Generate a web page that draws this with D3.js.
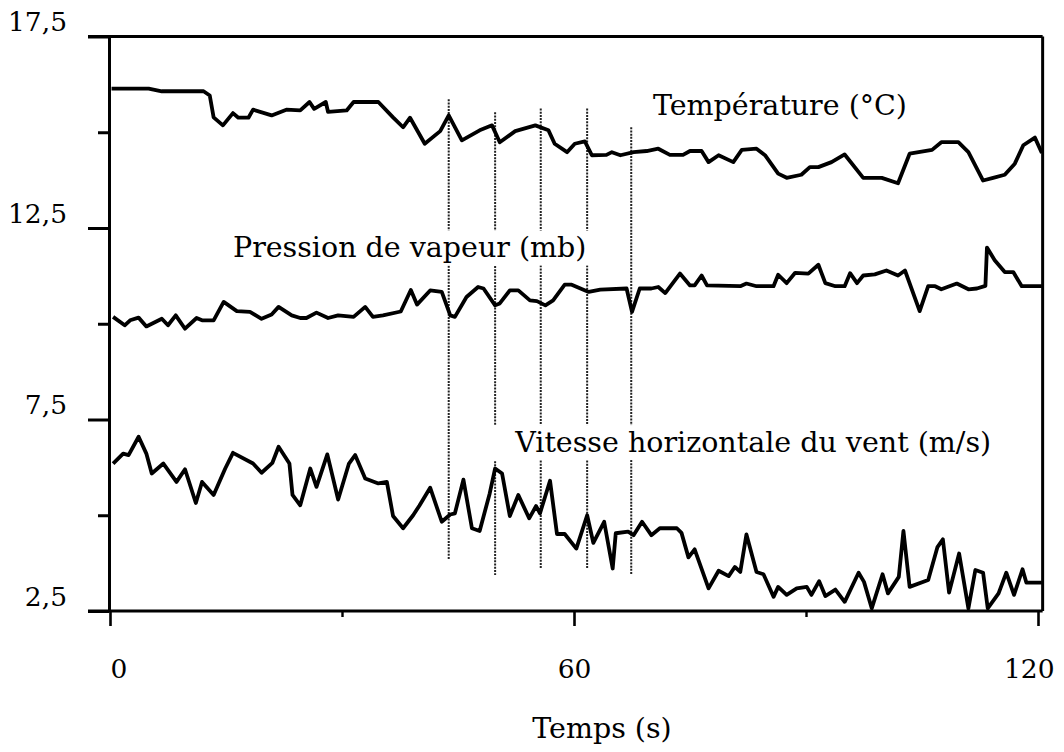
<!DOCTYPE html>
<html>
<head>
<meta charset="utf-8">
<script src="https://cdn.jsdelivr.net/npm/d3@7"></script>
<style>
  html, body { margin: 0; padding: 0; background: #fff; }
  svg { display: block; }
  text { font-family: "DejaVu Serif", "Liberation Serif", serif; fill: #000; }
</style>
</head>
<body>
<svg id="chart" width="1064" height="752"></svg>
<script>
// Time series, [time (s), value]
const temperature = [
  [0.2,16.14],[5.0,16.14],[6.7,16.07],[12.1,16.07],[12.9,15.96],[13.4,15.39],[14.6,15.18],[15.9,15.5],
  [16.6,15.38],[17.9,15.38],[18.5,15.59],[20.9,15.44],[22.8,15.59],[24.6,15.57],[25.8,15.79],[26.4,15.61],
  [27.9,15.79],[28.2,15.53],[30.6,15.57],[31.5,15.79],[34.7,15.79],[36.6,15.39],[37.9,15.13],[38.8,15.38],
  [40.7,14.7],[42.7,15.03],[43.8,15.44],[45.5,14.79],[47.8,15.05],[49.4,15.18],[50.4,14.74],[52.4,15.03],
  [55.0,15.18],[56.7,15.05],[57.5,14.7],[59.1,14.48],[60.1,14.7],[61.4,14.76],[62.3,14.4],[64.2,14.41],
  [64.9,14.48],[66.0,14.4],[67.7,14.48],[69.4,14.51],[70.9,14.57],[72.4,14.41],[74.1,14.41],[75.0,14.51],
  [76.5,14.51],[77.4,14.22],[78.7,14.4],[80.6,14.22],[81.7,14.54],[83.6,14.57],[84.7,14.4],[86.4,13.92],
  [87.5,13.81],[89.4,13.89],[90.5,14.09],[91.6,14.09],[93.3,14.22],[95.0,14.42],[97.4,13.81],[99.8,13.81],
  [101.9,13.67],[103.4,14.44],[106.3,14.54],[107.5,14.74],[109.7,14.74],[111.0,14.48],[112.9,13.74],
  [114.2,13.81],[115.7,13.89],[117.0,14.18],[118.1,14.66],[119.6,14.86],[120.5,14.46]
];

const vapourPressure = [
  [0.4,10.18],[1.9,9.96],[2.6,10.09],[3.7,10.16],[4.7,9.93],[6.7,10.13],[7.5,9.96],[8.5,10.22],[9.7,9.87],
  [11.2,10.15],[11.9,10.09],[13.4,10.09],[14.7,10.57],[16.4,10.33],[18.1,10.31],[19.6,10.13],[20.9,10.24],
  [21.8,10.44],[23.5,10.22],[24.6,10.15],[25.4,10.15],[26.7,10.29],[28.2,10.15],[29.5,10.22],[31.5,10.18],
  [33.0,10.44],[34.0,10.18],[35.3,10.22],[37.6,10.32],[38.9,10.88],[39.7,10.5],[41.4,10.87],[42.9,10.83],
  [44.0,10.22],[44.6,10.18],[46.1,10.7],[47.6,10.96],[48.3,10.92],[49.8,10.48],[50.4,10.53],[51.7,10.87],
  [52.8,10.87],[54.3,10.61],[55.2,10.59],[56.3,10.48],[57.3,10.61],[58.8,11.02],[59.7,11.02],[61.9,10.83],
  [63.4,10.89],[66.8,10.92],[67.5,10.31],[68.5,10.92],[70.0,10.92],[70.9,10.96],[71.8,10.8],[73.7,11.31],
  [75.0,11.0],[75.6,11.0],[76.5,11.26],[77.2,11.0],[81.5,10.98],[82.3,11.05],[83.6,10.98],[85.8,10.98],
  [86.4,11.28],[87.5,11.06],[88.6,11.33],[90.3,11.31],[91.6,11.54],[92.5,11.06],[93.8,10.98],[95.0,10.98],
  [95.7,11.32],[96.6,11.06],[97.4,11.26],[98.9,11.29],[100.4,11.39],[101.9,11.26],[102.8,11.39],[104.7,10.33],
  [105.8,10.98],[106.7,10.98],[107.5,10.9],[109.5,11.05],[111.0,10.9],[112.1,10.92],[113.2,10.99],[113.4,11.99],
  [114.4,11.66],[115.7,11.35],[116.8,11.35],[117.9,10.98],[120.5,10.98]
];

const windSpeed = [
  [0.4,6.35],[1.7,6.61],[2.4,6.57],[3.7,7.05],[4.7,6.61],[5.4,6.09],[6.9,6.35],[8.6,5.87],[9.7,6.2],
  [11.1,5.32],[11.9,5.87],[13.4,5.53],[14.9,6.22],[15.9,6.63],[18.5,6.35],[19.6,6.11],[21.0,6.37],[21.8,6.79],
  [23.2,6.35],[23.6,5.53],[24.6,5.26],[25.9,6.22],[26.7,5.74],[28.1,6.59],[29.5,5.41],[30.9,6.35],[31.7,6.57],
  [33.0,5.96],[34.7,5.83],[35.8,5.87],[36.6,4.98],[37.9,4.66],[39.2,5.0],[40.0,5.25],[41.4,5.72],[42.9,4.83],
  [44.0,5.02],[44.6,5.05],[45.7,5.93],[46.8,4.66],[47.8,4.59],[49.1,5.57],[49.8,6.22],[50.7,6.09],[51.7,4.98],
  [52.8,5.53],[54.2,4.92],[55.1,5.24],[55.6,5.05],[56.9,5.9],[57.8,4.51],[58.8,4.51],[60.3,4.13],[61.7,5.0],
  [62.5,4.28],[63.9,4.83],[65.0,3.61],[65.4,4.53],[67.0,4.57],[67.7,4.48],[68.8,4.83],[70.0,4.48],[71.1,4.66],
  [73.3,4.66],[73.9,4.54],[74.8,3.9],[75.6,4.11],[77.4,3.09],[78.7,3.55],[80.0,3.41],[80.8,3.65],[81.5,3.52],
  [82.3,4.5],[83.6,3.52],[84.5,3.46],[85.8,2.87],[86.4,3.13],[87.5,2.92],[88.8,3.09],[90.1,3.13],[90.7,2.92],
  [91.7,3.28],[92.5,2.89],[93.8,3.06],[95.0,2.74],[96.8,3.5],[97.5,3.26],[98.5,2.57],[99.9,3.46],[100.6,2.96],
  [102.0,3.39],[102.6,4.59],[103.4,3.13],[105.8,3.31],[107.0,4.17],[107.7,4.37],[108.5,2.98],[109.8,4.0],
  [111.0,2.57],[111.9,3.57],[112.9,3.5],[113.5,2.57],[114.9,2.96],[115.9,3.5],[116.9,2.92],[118.0,3.59],
  [118.5,3.24],[120.5,3.24]
];

// Vertical dotted guides: time, upper end, lower end (in value units)
const guideTimes   = [43.8, 49.8, 55.7, 61.7, 67.4];
const guideTops    = [15.86, 15.52, 15.62, 15.62, 15.13];
const guideBottoms = [3.83, 3.44, 3.59, 3.62, 3.44];

// Axis ticks
const yMajorTicks = [2.5, 7.5, 12.5, 17.5];
const yMinorTicks = [5, 10, 15];
const xMajorTicks = [0, 60, 120];
const xMinorTicks = [30, 90];

const seriesLabels = ["Température (°C)", "Pression de vapeur (mb)", "Vitesse horizontale du vent (m/s)"];
const xTitle = "Temps (s)";

// ---- layout ----
const svg = d3.select("#chart");
const x = d3.scaleLinear().domain([0, 120]).range([110, 1038]);
const y = d3.scaleLinear().domain([2.5, 17.5]).range([611, 36.5]);
const xEnd = 120.6;          // right edge of the frame
const axisX = 109;           // left axis line
const fr = d3.formatLocale({decimal: ",", thousands: " ", grouping: [3], currency: ["", " €"]});
const fmtY = fr.format(".1f");
const LABEL_FONT = 28.5;
const TICK_FONT = 26.5;

// dotted guides
svg.append("g")
  .selectAll("line")
  .data(guideTimes)
  .join("line")
  .attr("x1", d => x(d)).attr("x2", d => x(d))
  .attr("y1", (d, i) => y(guideTops[i]))
  .attr("y2", (d, i) => y(guideBottoms[i]))
  .attr("stroke", "#222")
  .attr("stroke-width", 2)
  .attr("stroke-dasharray", "2,1.2");

// series labels on white boxes (they interrupt the guides)
const labelLayout = [
  {t: 70.2, v: 15.46, padL: 6, padR: 6},
  {t: 15.9, v: 11.73, padL: 6, padR: 6},
  {t: 52.4, v: 6.65, padL: 26, padR: 6}
];
const labelG = svg.append("g");
seriesLabels.forEach((s, i) => {
  const L = labelLayout[i];
  const g = labelG.append("g");
  const rect = g.append("rect").attr("fill", "#fff");
  const txt = g.append("text")
    .attr("x", x(L.t)).attr("y", y(L.v))
    .attr("font-size", LABEL_FONT)
    .text(s);
  const bb = txt.node().getBBox();
  rect.attr("x", bb.x - L.padL).attr("y", bb.y - 1)
      .attr("width", bb.width + L.padL + L.padR).attr("height", bb.height + 2);
});

// data lines
const line = d3.line().x(d => x(d[0])).y(d => y(d[1]));
[temperature, vapourPressure, windSpeed].forEach(series => {
  svg.append("path")
    .datum(series)
    .attr("fill", "none")
    .attr("stroke", "#000")
    .attr("stroke-width", 3.8)
    .attr("stroke-linejoin", "round")
    .attr("d", line);
});

// frame: top, right and bottom edges
svg.append("line")
  .attr("x1", 88).attr("x2", x(xEnd))
  .attr("y1", y(17.5)).attr("y2", y(17.5))
  .attr("stroke", "#000").attr("stroke-width", 3);
svg.append("line")
  .attr("x1", x(xEnd)).attr("x2", x(xEnd))
  .attr("y1", y(17.5)).attr("y2", y(2.5))
  .attr("stroke", "#000").attr("stroke-width", 3);
svg.append("line")
  .attr("x1", 88).attr("x2", x(xEnd))
  .attr("y1", y(2.5)).attr("y2", y(2.5))
  .attr("stroke", "#000").attr("stroke-width", 3.2);

// left axis
const yMajor = svg.append("g").attr("transform", `translate(${axisX},0)`)
  .call(d3.axisLeft(y).tickValues(yMajorTicks).tickSize(21).tickSizeOuter(0).tickFormat(fmtY));
yMajor.select(".domain").attr("stroke-width", 3);
yMajor.selectAll(".tick line").attr("stroke-width", 3);
yMajor.selectAll(".tick text")
  .attr("x", -42).attr("dy", -6)
  .attr("text-anchor", "end")
  .attr("font-size", TICK_FONT)
  .attr("font-family", "DejaVu Serif, serif")
  .attr("fill", "#000");
const yMinor = svg.append("g").attr("transform", `translate(${axisX},0)`)
  .call(d3.axisLeft(y).tickValues(yMinorTicks).tickSize(11).tickSizeOuter(0).tickFormat(""));
yMinor.select(".domain").remove();
yMinor.selectAll(".tick line").attr("stroke-width", 3);

// bottom axis
const xMajor = svg.append("g").attr("transform", `translate(0,${y(2.5)})`)
  .call(d3.axisBottom(x).tickValues(xMajorTicks).tickSize(15).tickSizeOuter(0).tickFormat(d3.format("d")));
xMajor.select(".domain").remove();
xMajor.selectAll(".tick line").attr("stroke-width", 2.6);
xMajor.selectAll(".tick text")
  .attr("y", 0).attr("dy", 67)
  .attr("font-size", TICK_FONT)
  .attr("font-family", "DejaVu Serif, serif")
  .attr("fill", "#000")
  .attr("text-anchor", (d, i, n) => i === 0 ? "start" : (i === n.length - 1 ? "end" : "middle"))
  .attr("dx", (d, i, n) => i === n.length - 1 ? 16 : 0);
const xMinor = svg.append("g").attr("transform", `translate(0,${y(2.5)})`)
  .call(d3.axisBottom(x).tickValues(xMinorTicks).tickSize(6).tickSizeOuter(0).tickFormat(""));
xMinor.select(".domain").remove();
xMinor.selectAll(".tick line").attr("stroke-width", 2.4);

// x title
svg.append("text")
  .attr("x", 602).attr("y", 738)
  .attr("text-anchor", "middle")
  .attr("font-size", LABEL_FONT)
  .text(xTitle);
</script>
</body>
</html>
